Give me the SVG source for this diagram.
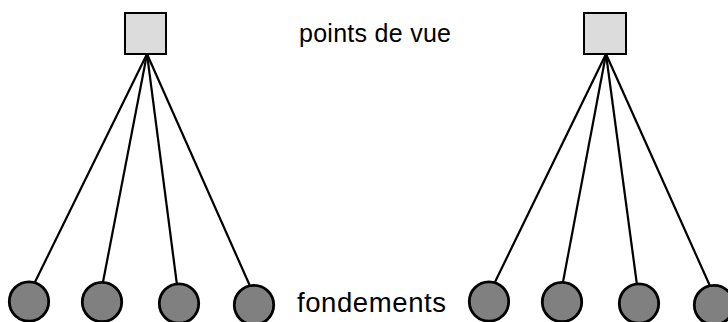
<svg xmlns="http://www.w3.org/2000/svg" width="728" height="322" viewBox="0 0 728 322">
  <style>
    .view { fill: #dcdcdc; stroke: #000; stroke-width: 2; }
    .base { fill: #808080; stroke: #000; stroke-width: 2.8; }
    .edge { stroke: #000; stroke-width: 2.2; fill: none; }
    .label { font-family: "Liberation Sans", Arial, sans-serif; fill: #000; }
  </style>
  <rect width="728" height="322" fill="#fff"/>

  <!-- connectors: each viewpoint fans out to its foundations -->
  <g id="connectors">
    <line class="edge" x1="147" y1="54" x2="35" y2="282"/>
    <line class="edge" x1="147" y1="54" x2="103" y2="282"/>
    <line class="edge" x1="147" y1="54" x2="177" y2="285"/>
    <line class="edge" x1="147" y1="54" x2="250" y2="286"/>
    <line class="edge" x1="606" y1="54" x2="495" y2="282"/>
    <line class="edge" x1="606" y1="54" x2="563" y2="282"/>
    <line class="edge" x1="606" y1="54" x2="637" y2="285"/>
    <line class="edge" x1="606" y1="54" x2="710" y2="286"/>
  </g>

  <!-- viewpoints -->
  <g id="view-left"><rect class="view" x="125" y="13" width="41" height="41"/></g>
  <g id="view-right"><rect class="view" x="584" y="13" width="42" height="41"/></g>

  <!-- foundations -->
  <g id="base-l1"><circle class="base" cx="29" cy="301.5" r="19.7"/></g>
  <g id="base-l2"><circle class="base" cx="102" cy="302" r="19.7"/></g>
  <g id="base-l3"><circle class="base" cx="179" cy="303.5" r="19.7"/></g>
  <g id="base-l4"><circle class="base" cx="254" cy="305" r="19.7"/></g>
  <g id="base-r1"><circle class="base" cx="489" cy="301.5" r="19.7"/></g>
  <g id="base-r2"><circle class="base" cx="562" cy="302" r="19.7"/></g>
  <g id="base-r3"><circle class="base" cx="639" cy="303.5" r="19.7"/></g>
  <g id="base-r4"><circle class="base" cx="714" cy="305" r="19.7"/></g>

  <!-- labels -->
  <text class="label" x="299" y="42" font-size="25" textLength="152" lengthAdjust="spacing">points de vue</text>
  <text class="label" x="297" y="312" font-size="27.5" textLength="149" lengthAdjust="spacing">fondements</text>
</svg>
